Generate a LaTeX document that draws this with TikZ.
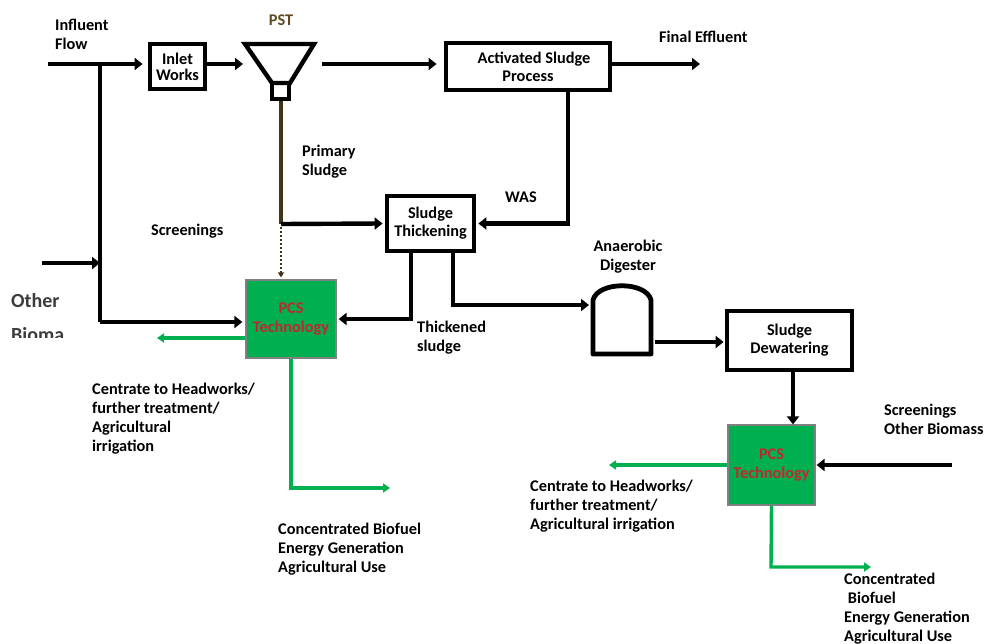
\documentclass[tikz,border=0pt]{standalone}
\usepackage{fontspec}
\setmainfont{Carlito}
\usetikzlibrary{arrows.meta}
\definecolor{pcsgreen}{RGB}{0,176,80}
\definecolor{pcsred}{RGB}{196,38,46}
\definecolor{pstbrown}{RGB}{92,74,30}
\definecolor{sludgebrown}{RGB}{64,52,24}
\definecolor{othergray}{RGB}{60,60,60}
\begin{document}
\begin{tikzpicture}[x=1pt,y=-1pt,
  font=\fontsize{16.3}{19.2}\selectfont\bfseries,
  flow/.style={line width=4.4pt,-{Triangle[length=8pt,width=12pt]}},
  gflow/.style={draw=pcsgreen,line width=3.4pt,-{Triangle[length=7pt,width=9pt]}},
  box/.style={draw,line width=4.8pt,align=center,inner sep=0pt},
  pcs/.style={draw=gray,line width=1.2pt,fill=pcsgreen,text=pcsred,align=center,inner sep=0pt},
  lbl/.style={align=left,inner sep=0pt,anchor=west},
  clbl/.style={align=center,inner sep=0pt}]
\useasboundingbox (0,0) rectangle (984,644);

% boxes
\node[box,minimum width=55pt,minimum height=45pt] (inlet) at (177.5,66.5) {Inlet\\[-3pt]Works};
\node[box,minimum width=164pt,minimum height=47pt] (asp) at (528,66.5) {\hspace*{12pt}Activated Sludge\\[-1pt]Process};
\node[box,minimum width=87pt,minimum height=55pt] (thick) at (430.5,223.5) {Sludge\\[-1pt]Thickening};
\node[box,minimum width=125pt,minimum height=59pt] (dew) at (789.5,340.5) {Sludge\\[-1pt]Dewatering};
\node[pcs,minimum width=90pt,minimum height=78pt] (pcs1) at (291,319) {PCS\\Technology};
\node[pcs,minimum width=87pt,minimum height=80pt] (pcs2) at (771.5,465) {PCS\\Technology};

% PST
\draw[line width=4.4pt,line join=miter] (245,44) -- (314,44) -- (290,83) -- (272,83) -- cycle;
\draw[line width=4pt] (272,83) rectangle (289,99);
\coordinate (pstin) at (243,64);
\coordinate (pstout) at (322,64);
\coordinate (pstbot) at (281,101);
\coordinate (psj) at (281,224);

% digester
\draw[line width=4.8pt,line join=round] (593,354) -- (593,300) .. controls (598,281) and (646,281) .. (651,300) -- (651,354) -- cycle;
\coordinate (digin) at (589,305);
\coordinate (digout) at (655,342);

% free ends
\coordinate (infl) at (48,64);
\coordinate (split) at (100,64);
\coordinate (obstart) at (42,263);
\coordinate (obend) at (100,263);
\coordinate (effl) at (700,64);
\coordinate (scr2) at (952,465);
\coordinate (cent2) at (609,465);
\coordinate (bend2) at (771,567);
\coordinate (conc2) at (871,567);
\coordinate (cent1) at (157,338);
\coordinate (bend1) at (291,488);
\coordinate (conc1) at (390,488);

% connectors
\draw[flow] (infl) -- ([xshift=-5pt]infl -| inlet.west);
\draw[line width=4.4pt] (split) -- ([yshift=-3pt]split |- pcs1.west);
\draw[flow] ([yshift=-3pt]split |- pcs1.west) -- ([yshift=-3pt,xshift=-3pt]pcs1.west);
\draw[flow] (obstart) -- (obend);
\draw[flow] (pstin -| inlet.east) -- (pstin);
\draw[flow] (pstout) -- ([xshift=-7pt]pstout -| asp.west);
\draw[flow] (effl -| asp.east) -- (effl);
\draw[line width=4pt,draw=sludgebrown] (pstbot) -- (psj);
\draw[flow] (psj) -- ([xshift=-2pt]thick.west);
\draw[draw=sludgebrown,line width=2pt,dotted,-{Triangle[length=5pt,width=6pt]}] ([yshift=-3pt]psj) -- ([yshift=2pt]psj |- pcs1.north);
\draw[flow] ([xshift=40pt]asp.south) |- ([xshift=2pt]thick.east);
\draw[flow] ([xshift=-19.5pt]thick.south) |- ([xshift=2pt]pcs1.east);
\draw[flow] ([xshift=22.5pt]thick.south) |- (digin);
\draw[flow] (digout) -- ([xshift=-1pt]digout -| dew.west);
\draw[flow] ([xshift=3.5pt]dew.south) -- ([xshift=3.5pt]dew.south |- pcs2.north);
\draw[flow] (scr2) -- ([xshift=1pt]pcs2.east);
\draw[gflow] (pcs2.west) -- (cent2);
\draw[gflow] (pcs2.south) -- (bend2) -- (conc2);
\draw[gflow] ([yshift=-19pt]pcs1.west) -- (cent1);
\draw[gflow] (pcs1.south) -- (bend1) -- (conc1);

% labels
\node[lbl] (linfl) at (55,34) {Influent\\Flow};
\node[clbl,text=pstbrown] (lpst) at (281,20) {PST};
\node[lbl] (leff) at (659,37) {Final Effluent};
\node[lbl] (lprim) at (302,161.5) {Primary\\Sludge};
\node[clbl] (lwas) at (521,197) {WAS};
\node[lbl] (lscr) at (151,231) {Screenings};
\node[clbl] (ldig) at (628,256.5) {Anaerobic\\Digester};
\node[lbl] (lthk) at (417,337.5) {Thickened\\sludge};
\node[lbl] (lcent1) at (92,418.5) {Centrate to Headworks/\\further treatment/\\Agricultural\\irrigation};
\node[lbl] (lconc1) at (278,549) {Concentrated Biofuel\\Energy Generation\\Agricultural Use};
\node[lbl] (lscr2) at (884,419.5) {Screenings\\Other Biomass};
\node[lbl] (lcent2) at (530,506) {Centrate to Headworks/\\further treatment/\\Agricultural irrigation};
\node[lbl] (lconc2) at (844,608.5) {Concentrated\\\ Biofuel\\Energy Generation\\Agricultural Use};
\begin{scope}
\clip (0,280) rectangle (120,337);
\node[lbl,text=othergray,font=\fontsize{20}{34}\selectfont\bfseries] (lother) at (11,318) {Other\\Bioma};
\end{scope}
\end{tikzpicture}
\end{document}
